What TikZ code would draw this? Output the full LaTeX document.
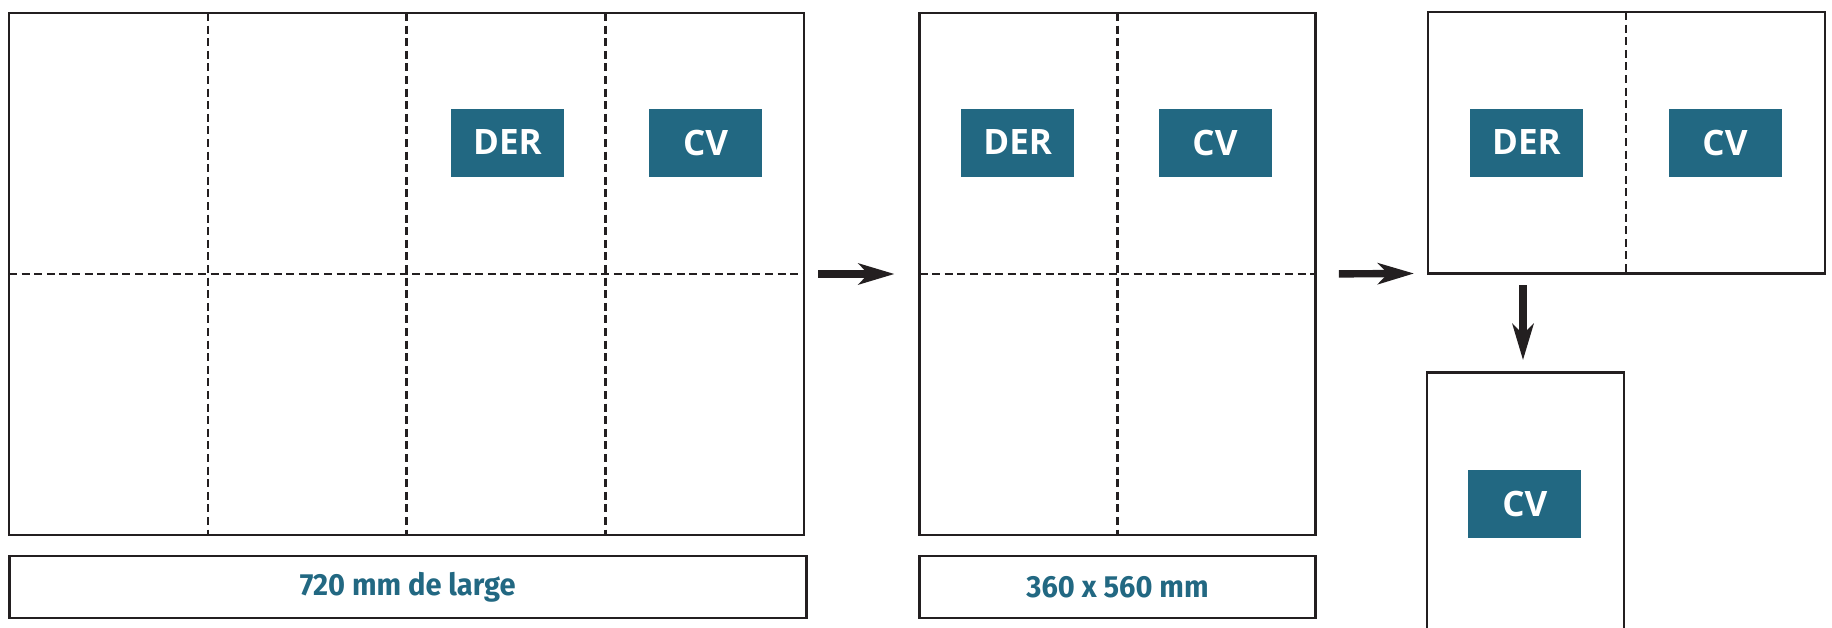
\documentclass[tikz,border=0pt]{standalone}
\usepackage{fontspec}
\setmainfont{Open Sans}
\newfontfamily\labelfont[FakeStretch=0.95]{Fira Sans}
\usetikzlibrary{arrows.meta}
\definecolor{tealbox}{RGB}{34,104,130}
\definecolor{ink}{RGB}{35,31,32}
\begin{document}
\begin{tikzpicture}[x=0.5pt,y=-0.5pt,
  sheet/.style={draw=ink, line width=1.3pt, inner sep=0pt, outer sep=0pt},
  fold/.style={draw=ink, line width=1.25pt, dash pattern=on 4pt off 2.3pt},
  tag/.style={fill=tealbox, text=white, font=\bfseries\fontsize{17.5}{17.5}\selectfont,
    minimum width=56.5pt, minimum height=34pt, inner sep=0pt},
  caption/.style={draw=ink, line width=1.35pt, text=tealbox,
    font=\labelfont\bfseries\fontsize{15.3}{15.3}\selectfont, inner sep=0pt, minimum height=31pt},
  flow/.style={draw=ink, line width=3.7pt, -{Stealth[length=18pt,width=10.5pt,inset=5pt]}}]
\useasboundingbox (0,0) rectangle (1832,627);

% sheet 1
\node[sheet, minimum width=397.5pt, minimum height=261pt] (b1) at (406.5,274) {};
\draw[fold] (207.75,13) -- (207.75,535);
\draw[fold] (406.5,13) -- (406.5,535);
\draw[fold] (605.25,13) -- (605.25,535);
\draw[fold] (9,274) -- (804,274);
\node[tag] (der1) at (507.5,142.5) {DER};
\node[tag] (cv1) at (705.7,142.5) {CV};
\node[caption, minimum width=398.5pt] (lab1) at (407.7,587) {720 mm de large};

% sheet 2
\node[sheet, minimum width=198pt, minimum height=261pt] (b2) at (1117.5,274) {};
\draw[fold] (1117.5,13) -- (1117.5,535);
\draw[fold] (919.5,274) -- (1315.5,274);
\node[tag] (der2) at (1017.7,142.5) {DER};
\node[tag] (cv2) at (1215,142.5) {CV};
\node[caption, minimum width=198pt] (lab2) at (1117.5,587) {360 x 560 mm};

% sheet 3
\node[sheet, minimum width=198.5pt, minimum height=130.7pt] (b3) at (1626.5,142.7) {};
\draw[fold] (1626,12) -- (1626,273.4);
\node[tag] (der3) at (1526.5,142.5) {DER};
\node[tag] (cv3) at (1725,142.5) {CV};

% sheet 4 (runs past the bottom edge)
\draw[ink, line width=1.3pt] (1427,640) -- (1427,372.7) -- (1624,372.7) -- (1624,640);
\coordinate (b4n) at (1523,372.7);
\node[tag] (cv4) at (1524.8,503.6) {CV};

% arrows
\draw[flow, shorten <=7pt, shorten >=12.5pt] (b1.east) -- (b2.west);
\draw[flow, shorten <=11.7pt, shorten >=7pt] (b2.east) -- (b3.south west);
\draw[flow, shorten <=5.8pt, shorten >=6.3pt] (b4n |- b3.south) -- (b4n);
\end{tikzpicture}
\end{document}
